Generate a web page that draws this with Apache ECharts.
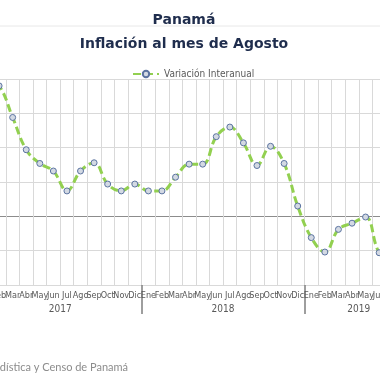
<!DOCTYPE html>
<html>
<head>
<meta charset="utf-8">
<style>html,body{margin:0;padding:0;background:#fff;overflow:hidden;width:380px;height:380px;}
#c{position:absolute;left:-25px;top:0;width:442px;height:380px;}</style>
<script src="https://cdn.jsdelivr.net/npm/echarts@6/dist/echarts.min.js"></script>
</head>
<body>
<div id="c"></div>
<script>
const months = ['Ene','Feb','Mar','Abr','May','Jun','Jul','Ago','Sep','Oct','Nov','Dic',
                'Ene','Feb','Mar','Abr','May','Jun','Jul','Ago','Sep','Oct','Nov','Dic',
                'Ene','Feb','Mar','Abr','May','Jun','Jul','Ago'];
const years = ['2017','2018','2019'];
const yearMonthCounts = [12, 12, 8];
const variacion = [2.0, 1.9, 1.44, 0.97, 0.77, 0.66, 0.37, 0.66, 0.78, 0.47, 0.37, 0.47,
                   0.37, 0.37, 0.57, 0.76, 0.76, 1.16, 1.30, 1.07, 0.74, 1.02, 0.77, 0.15,
                   -0.31, -0.52, -0.19, -0.10, -0.01, -0.53, -0.65, -0.5];
const yTicks = [-1, -0.5, 0, 0.5, 1, 1.5, 2];

// year label centres and separators (in category units)
const yearCenters = [], yearSeps = [];
let acc = 0;
yearMonthCounts.forEach((n, i) => { yearCenters.push(acc + n / 2); acc += n; if (i < yearMonthCounts.length - 1) yearSeps.push(acc); });

const OFF = 25; // container is shifted left by this many px
const chart = echarts.init(document.getElementById('c'), null, {renderer: 'canvas'});
const labelFont = "'Liberation Sans Narrow','DejaVu Sans Condensed',sans-serif";
chart.setOption({
  animation: false,
  title: [
    {text: 'Panamá', left: 179 + OFF, textAlign: 'center', top: 8,
     textStyle: {fontFamily: 'DejaVu Sans', fontWeight: 'bold', fontSize: 14, color: '#1f2d4d'}},
    {text: 'Inflación al mes de Agosto', left: 179 + OFF, textAlign: 'center', top: 32,
     textStyle: {fontFamily: 'DejaVu Sans', fontWeight: 'bold', fontSize: 14, color: '#1f2d4d'}}
  ],
  legend: {
    left: 127 + OFF, top: 64, itemWidth: 26, itemHeight: 8, itemGap: 4,
    textStyle: {fontFamily: labelFont, fontSize: 10, color: '#595959'}
  },
  grid: {left: 0.5, right: 0, top: 79, bottom: 95, containLabel: false},
  xAxis: [
    {type: 'category', data: months, boundaryGap: true,
     axisLine: {onZero: false, lineStyle: {color: '#d9d9d9'}},
     axisTick: {show: false},
     axisLabel: {interval: 0, margin: 6, fontFamily: labelFont, fontSize: 9, color: '#595959'},
     splitLine: {show: true, interval: 0, lineStyle: {color: '#d9d9d9', width: 1}}},
    {type: 'value', min: 0, max: months.length, position: 'bottom',
     axisLine: {show: false, onZero: false}, splitLine: {show: false},
     axisTick: {show: true, customValues: yearSeps, length: 29, lineStyle: {color: '#7f7f7f', width: 1.5}},
     axisLabel: {customValues: yearCenters, margin: 19, fontFamily: labelFont, fontSize: 10, color: '#595959',
       formatter: v => { const i = yearCenters.indexOf(v); return i >= 0 ? years[i] : ''; }}}
  ],
  yAxis: {
    type: 'value', min: yTicks[0], max: yTicks[yTicks.length - 1], interval: 0.5,
    axisLine: {show: false}, axisTick: {show: false}, axisLabel: {show: false},
    splitLine: {show: true, lineStyle: {width: 1,
      color: yTicks.map(v => v === 0 ? '#8c8c8c' : '#d9d9d9')}}
  },
  series: [{
    name: 'Variación Interanual', type: 'line', xAxisIndex: 0, data: variacion,
    smooth: 0.4, symbol: 'circle', symbolSize: 6,
    lineStyle: {color: '#92d050', width: 3, type: [8, 4]},
    itemStyle: {color: '#d3d9e3', borderColor: '#5b73a0', borderWidth: 1},
    clip: false
  }],
  graphic: [
    {type: 'line', shape: {x1: OFF, y1: 26, x2: 380 + OFF, y2: 26}, style: {stroke: '#e8e8e8', lineWidth: 1}},
    {type: 'text', x: 128 + OFF, y: 367, style: {text: 'Fuente: Instituto Nacional de Estadística y Censo de Panamá',
      align: 'right', verticalAlign: 'middle', font: "11px Lato, 'Open Sans', sans-serif", fill: '#8c8c8c'}}
  ]
});
</script>
</body>
</html>
